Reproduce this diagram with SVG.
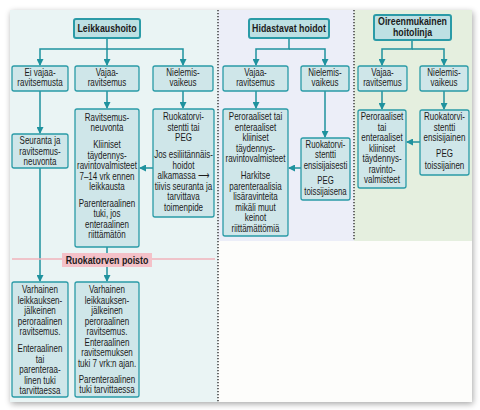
<svg xmlns="http://www.w3.org/2000/svg" width="480" height="410" viewBox="0 0 480 410">
<defs>
<filter id="sh" x="-5%" y="-5%" width="110%" height="110%">
<feGaussianBlur in="SourceAlpha" stdDeviation="3"/>
<feOffset dx="1" dy="2"/>
<feComponentTransfer><feFuncA type="linear" slope="0.35"/></feComponentTransfer>
<feMerge><feMergeNode/><feMergeNode in="SourceGraphic"/></feMerge>
</filter>
<marker id="ar" markerUnits="userSpaceOnUse" markerWidth="7" markerHeight="7" refX="6" refY="3.5" orient="auto">
<path d="M0,0 L7,3.5 L0,7 z" fill="#1f929e"/>
</marker>
<style>
.box{fill:#cfe6e9;stroke:#2a9ba7;stroke-width:1.3}
.hdr{fill:#bde0e3;stroke:#2a9ba7;stroke-width:2}
.t{font-family:"Liberation Sans",Arial,sans-serif;font-size:10px;fill:#1b1b1b;text-anchor:middle}
.b{font-weight:bold;font-size:11px}
.c{stroke:#1f929e;stroke-width:1.5;fill:none}
.a{marker-end:url(#ar)}
.dot{stroke:#222;stroke-width:1.3;stroke-dasharray:1.3 1.7;fill:none}
</style>
</defs>
<rect width="480" height="410" fill="#ffffff"/>
<rect x="10" y="10" width="462" height="392" fill="#fdfdfb" filter="url(#sh)"/>
<g id="panels">
<rect x="10" y="10" width="208" height="392" fill="#eaf4f4"/>
<rect x="218" y="10" width="136" height="231" fill="#eceef8"/>
<rect x="354" y="10" width="118" height="231" fill="#e5efdf"/>
<line class="dot" x1="218" y1="10" x2="218" y2="402"/>
<line class="dot" x1="354" y1="10" x2="354" y2="241"/>
</g>
<g id="connectors">
<path class="c a" d="M107,38 V49 H40 V65"/>
<path class="c a" d="M107,49 H183 V65"/>
<path class="c a" d="M107,49 V65"/>
<path class="c a" d="M40,91 V133"/>
<path class="c a" d="M107,91 V108"/>
<path class="c a" d="M183,91 V108"/>
<path class="c a" d="M153,168 H140"/>
<path class="c a" d="M40,168 V281"/>
<path class="c a" d="M107,247 V281"/>
<path class="c a" d="M289,38 V49 H256 V65"/>
<path class="c a" d="M289,49 H325 V65"/>
<path class="c a" d="M256,91 V108"/>
<path class="c a" d="M325,91 V137"/>
<path class="c a" d="M301,168 H289"/>
<path class="c a" d="M412,40 V49 H382 V65"/>
<path class="c a" d="M412,49 H444 V65"/>
<path class="c a" d="M382,91 V109"/>
<path class="c a" d="M444,91 V109"/>
<path class="c a" d="M420,142 H407"/>
</g>
<g id="divider">
<line x1="12" y1="259" x2="215" y2="259" stroke="#f0b3bb" stroke-width="1.6"/>
<rect x="62" y="253" width="90" height="14" fill="#f4c1c8"/>
<text class="t b" transform="translate(107,0) scale(0.8,1)" x="0" y="264">Ruokatorven poisto</text>
</g>
<g id="n-leikkaushoito">
<rect class="hdr" x="74" y="19" width="66" height="19" rx="2"/>
<text class="t b" transform="translate(107,0) scale(0.8,1)" x="0" y="32">Leikkaushoito</text>
</g>
<g id="n-ei-vajaa">
<rect class="box" x="12" y="66" width="56" height="25" rx="2"/>
<text class="t" transform="translate(40,0) scale(0.8,1)"><tspan x="0" y="76">Ei vajaa-</tspan><tspan x="0" y="86.5">ravitsemusta</tspan></text>
</g>
<g id="n-vajaa1">
<rect class="box" x="75" y="66" width="64" height="25" rx="2"/>
<text class="t" transform="translate(107,0) scale(0.8,1)"><tspan x="0" y="76">Vajaa-</tspan><tspan x="0" y="86.5">ravitsemus</tspan></text>
</g>
<g id="n-nielemis1">
<rect class="box" x="153" y="66" width="60" height="25" rx="2"/>
<text class="t" transform="translate(183,0) scale(0.8,1)"><tspan x="0" y="76">Nielemis-</tspan><tspan x="0" y="86.5">vaikeus</tspan></text>
</g>
<g id="n-seuranta">
<rect class="box" x="12" y="134" width="56" height="34" rx="2"/>
<text class="t" transform="translate(40,0) scale(0.8,1)"><tspan x="0" y="144.5">Seuranta ja</tspan><tspan x="0" y="155">ravitsemus-</tspan><tspan x="0" y="165.5">neuvonta</tspan></text>
</g>
<g id="n-ravitsemusneuvonta">
<rect class="box" x="75" y="109" width="64" height="138" rx="2"/>
<text class="t" transform="translate(107,0) scale(0.8,1)"><tspan x="0" y="121">Ravitsemus-</tspan><tspan x="0" y="131.5">neuvonta</tspan><tspan x="0" y="148.5">Kliiniset</tspan><tspan x="0" y="159">täydennys-</tspan><tspan x="0" y="169.5">ravintovalmisteet</tspan><tspan x="0" y="180">7–14 vrk ennen</tspan><tspan x="0" y="190.5">leikkausta</tspan><tspan x="0" y="207">Parenteraalinen</tspan><tspan x="0" y="217.5">tuki, jos</tspan><tspan x="0" y="228">enteraalinen</tspan><tspan x="0" y="238.5">riittämätön</tspan></text>
</g>
<g id="n-ruokatorvi1">
<rect class="box" x="153" y="109" width="61" height="108" rx="2"/>
<text class="t" transform="translate(183.5,0) scale(0.8,1)"><tspan x="0" y="120.5">Ruokatorvi-</tspan><tspan x="0" y="131">stentti tai</tspan><tspan x="0" y="141.5">PEG</tspan><tspan x="0" y="158.5">Jos esiliitännäis-</tspan><tspan x="0" y="169">hoidot</tspan><tspan x="0" y="179.5">alkamassa ⟶</tspan><tspan x="0" y="190">tiivis seuranta ja</tspan><tspan x="0" y="200.5">tarvittava</tspan><tspan x="0" y="211">toimenpide</tspan></text>
</g>
<g id="n-varhainen1">
<rect class="box" x="12" y="282" width="56" height="115" rx="2"/>
<text class="t" transform="translate(40,0) scale(0.8,1)"><tspan x="0" y="293.5">Varhainen</tspan><tspan x="0" y="304">leikkauksen-</tspan><tspan x="0" y="314.5">jälkeinen</tspan><tspan x="0" y="325">peroraalinen</tspan><tspan x="0" y="335.5">ravitsemus.</tspan><tspan x="0" y="352.5">Enteraalinen</tspan><tspan x="0" y="363">tai</tspan><tspan x="0" y="373.5">parenteraa-</tspan><tspan x="0" y="384">linen tuki</tspan><tspan x="0" y="394.5">tarvittaessa</tspan></text>
</g>
<g id="n-varhainen2">
<rect class="box" x="75" y="282" width="64" height="115" rx="2"/>
<text class="t" transform="translate(107,0) scale(0.8,1)"><tspan x="0" y="293.5">Varhainen</tspan><tspan x="0" y="304">leikkauksen-</tspan><tspan x="0" y="314.5">jälkeinen</tspan><tspan x="0" y="325">peroraalinen</tspan><tspan x="0" y="335.5">ravitsemus.</tspan><tspan x="0" y="346">Enteraalinen</tspan><tspan x="0" y="356.5">ravitsemuksen</tspan><tspan x="0" y="367">tuki 7 vrk:n ajan.</tspan><tspan x="0" y="383">Parenteraalinen</tspan><tspan x="0" y="393.5">tuki tarvittaessa</tspan></text>
</g>
<g id="n-hidastavat">
<rect class="hdr" x="249" y="19" width="80" height="19" rx="2"/>
<text class="t b" transform="translate(289,0) scale(0.8,1)" x="0" y="32">Hidastavat hoidot</text>
</g>
<g id="n-vajaa2">
<rect class="box" x="223" y="66" width="65" height="25" rx="2"/>
<text class="t" transform="translate(255.5,0) scale(0.8,1)"><tspan x="0" y="76">Vajaa-</tspan><tspan x="0" y="86.5">ravitsemus</tspan></text>
</g>
<g id="n-nielemis2">
<rect class="box" x="301" y="66" width="48" height="25" rx="2"/>
<text class="t" transform="translate(325,0) scale(0.8,1)"><tspan x="0" y="76">Nielemis-</tspan><tspan x="0" y="86.5">vaikeus</tspan></text>
</g>
<g id="n-peroraaliset2">
<rect class="box" x="223" y="109" width="65" height="127" rx="2"/>
<text class="t" transform="translate(255.5,0) scale(0.8,1)"><tspan x="0" y="120.5">Peroraaliset tai</tspan><tspan x="0" y="131">enteraaliset</tspan><tspan x="0" y="141.5">kliiniset</tspan><tspan x="0" y="152">täydennys-</tspan><tspan x="0" y="162.5">ravintovalmisteet</tspan><tspan x="0" y="179.5">Harkitse</tspan><tspan x="0" y="190">parenteraalisia</tspan><tspan x="0" y="200.5">lisäravinteita</tspan><tspan x="0" y="211">mikäli muut</tspan><tspan x="0" y="221.5">keinot</tspan><tspan x="0" y="232">riittämättömiä</tspan></text>
</g>
<g id="n-ruokatorvi2">
<rect class="box" x="301" y="138" width="49" height="62" rx="2"/>
<text class="t" transform="translate(325.5,0) scale(0.78,1)"><tspan x="0" y="148">Ruokatorvi-</tspan><tspan x="0" y="158.5">stentti</tspan><tspan x="0" y="169">ensisijaisesti</tspan><tspan x="0" y="184.5">PEG</tspan><tspan x="0" y="195">toissijaisena</tspan></text>
</g>
<g id="n-oireenmukainen">
<rect class="hdr" x="374" y="15" width="77" height="25" rx="2"/>
<text class="t b" transform="translate(412.5,0) scale(0.8,1)"><tspan x="0" y="25.5">Oireenmukainen</tspan><tspan x="0" y="36.5">hoitolinja</tspan></text>
</g>
<g id="n-vajaa3">
<rect class="box" x="358" y="66" width="49" height="25" rx="2"/>
<text class="t" transform="translate(382.5,0) scale(0.8,1)"><tspan x="0" y="76">Vajaa-</tspan><tspan x="0" y="86.5">ravitsemus</tspan></text>
</g>
<g id="n-nielemis3">
<rect class="box" x="420" y="66" width="48" height="25" rx="2"/>
<text class="t" transform="translate(444,0) scale(0.8,1)"><tspan x="0" y="76">Nielemis-</tspan><tspan x="0" y="86.5">vaikeus</tspan></text>
</g>
<g id="n-peroraaliset3">
<rect class="box" x="358" y="110" width="48" height="78" rx="2"/>
<text class="t" transform="translate(382,0) scale(0.8,1)"><tspan x="0" y="120.5">Peroraaliset</tspan><tspan x="0" y="131">tai</tspan><tspan x="0" y="141.5">enteraaliset</tspan><tspan x="0" y="152">kliiniset</tspan><tspan x="0" y="162.5">täydennys-</tspan><tspan x="0" y="173">ravinto-</tspan><tspan x="0" y="183.5">valmisteet</tspan></text>
</g>
<g id="n-ruokatorvi3">
<rect class="box" x="420" y="110" width="49" height="65" rx="2"/>
<text class="t" transform="translate(444.5,0) scale(0.8,1)"><tspan x="0" y="120.5">Ruokatorvi-</tspan><tspan x="0" y="131">stentti</tspan><tspan x="0" y="141.5">ensisijainen</tspan><tspan x="0" y="157">PEG</tspan><tspan x="0" y="169.5">toissijainen</tspan></text>
</g>
</svg>
